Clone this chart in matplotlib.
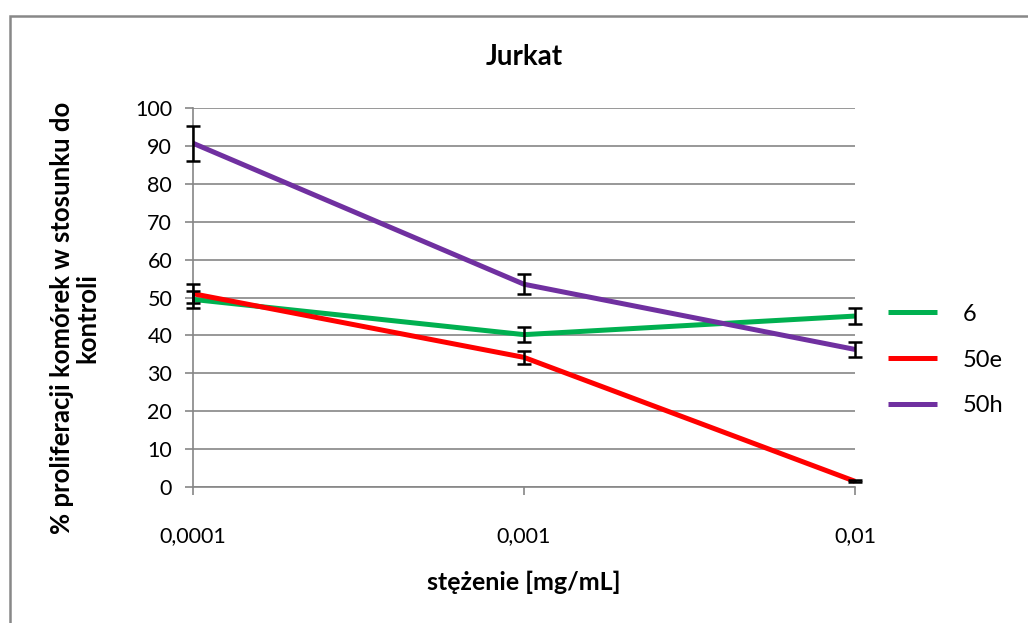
import matplotlib
matplotlib.use("Agg")
import matplotlib.pyplot as plt
from matplotlib.patches import Rectangle

plt.rcParams['font.family'] = ['Lato', 'DejaVu Sans']

concentrations = ["0,0001", "0,001", "0,01"]
series_names = ["6", "50e", "50h"]
values_6 = [49.5, 40.2, 45.1]
errors_6 = [2.2, 2.0, 2.1]
values_50e = [51.0, 34.2, 1.5]
errors_50e = [2.5, 1.8, 0.3]
values_50h = [90.7, 53.5, 36.3]
errors_50h = [4.6, 2.7, 1.9]
colors = ["#00B050", "#FF0000", "#7030A0"]
y_ticks = list(range(0, 101, 10))

W, H = 1028, 623
fig = plt.figure(figsize=(W / 100, H / 100), dpi=100)
ax = fig.add_axes([193 / W, 1 - 487 / H, (855 - 193) / W, (487 - 108) / H])

x = list(range(len(concentrations)))
for vals, errs, col, name in zip([values_6, values_50e, values_50h],
                                 [errors_6, errors_50e, errors_50h],
                                 colors, series_names):
    ax.plot(x, vals, color=col, lw=3.6, label=name, zorder=3,
            solid_capstyle='butt', clip_on=False)
    eb = ax.errorbar(x, vals, yerr=errs, fmt='none', ecolor='black', elinewidth=1.8,
                     capsize=5, capthick=1.8, zorder=4)
    for artist in eb.lines[1] + eb.lines[2]:
        artist.set_clip_on(False)

ax.set_xlim(0, 2)
ax.set_ylim(0, 100)
ax.set_yticks(y_ticks)
ax.set_xticks(x)
ax.set_xticklabels(concentrations)
ax.yaxis.grid(True, color='#868686', lw=1.2)
ax.set_axisbelow(True)
for s in ['top', 'right']:
    ax.spines[s].set_visible(False)
for s in ['left', 'bottom']:
    ax.spines[s].set_color('#868686')
    ax.spines[s].set_linewidth(1.2)
ax.tick_params(axis='y', direction='out', length=6, width=1.2, color='#868686',
               labelsize=15.5, pad=9)
ax.tick_params(axis='x', direction='out', length=6, width=1.2, color='#868686',
               labelsize=15.5, pad=22)

fig.text(524 / W, 1 - 57 / H, "Jurkat", fontsize=20, fontweight='bold',
         ha='center', va='center')
fig.text(524 / W, 1 - 582 / H, "stężenie [mg/mL]", fontsize=18, fontweight='bold',
         ha='center', va='center')
fig.text(75 / W, 1 - 318 / H, "% proliferacji komórek w stosunku do\nkontroli",
         fontsize=18.5, fontweight='bold', rotation=90, ha='center', va='center',
         multialignment='center', linespacing=1.05)

leg = ax.legend(loc='center left', bbox_to_anchor=(1.035, 0.335), frameon=False,
                fontsize=17, handlelength=2.1, handletextpad=1.1, labelspacing=1.05,
                borderaxespad=0)
for h in leg.get_lines():
    h.set_linewidth(3.6)

fig.add_artist(Rectangle((10 / W, -0.1), 1.1, 1 - 16 / H + 0.1,
                         transform=fig.transFigure, fill=False,
                         edgecolor='#888888', lw=1.8))

fig.savefig("out.png", dpi=100)
